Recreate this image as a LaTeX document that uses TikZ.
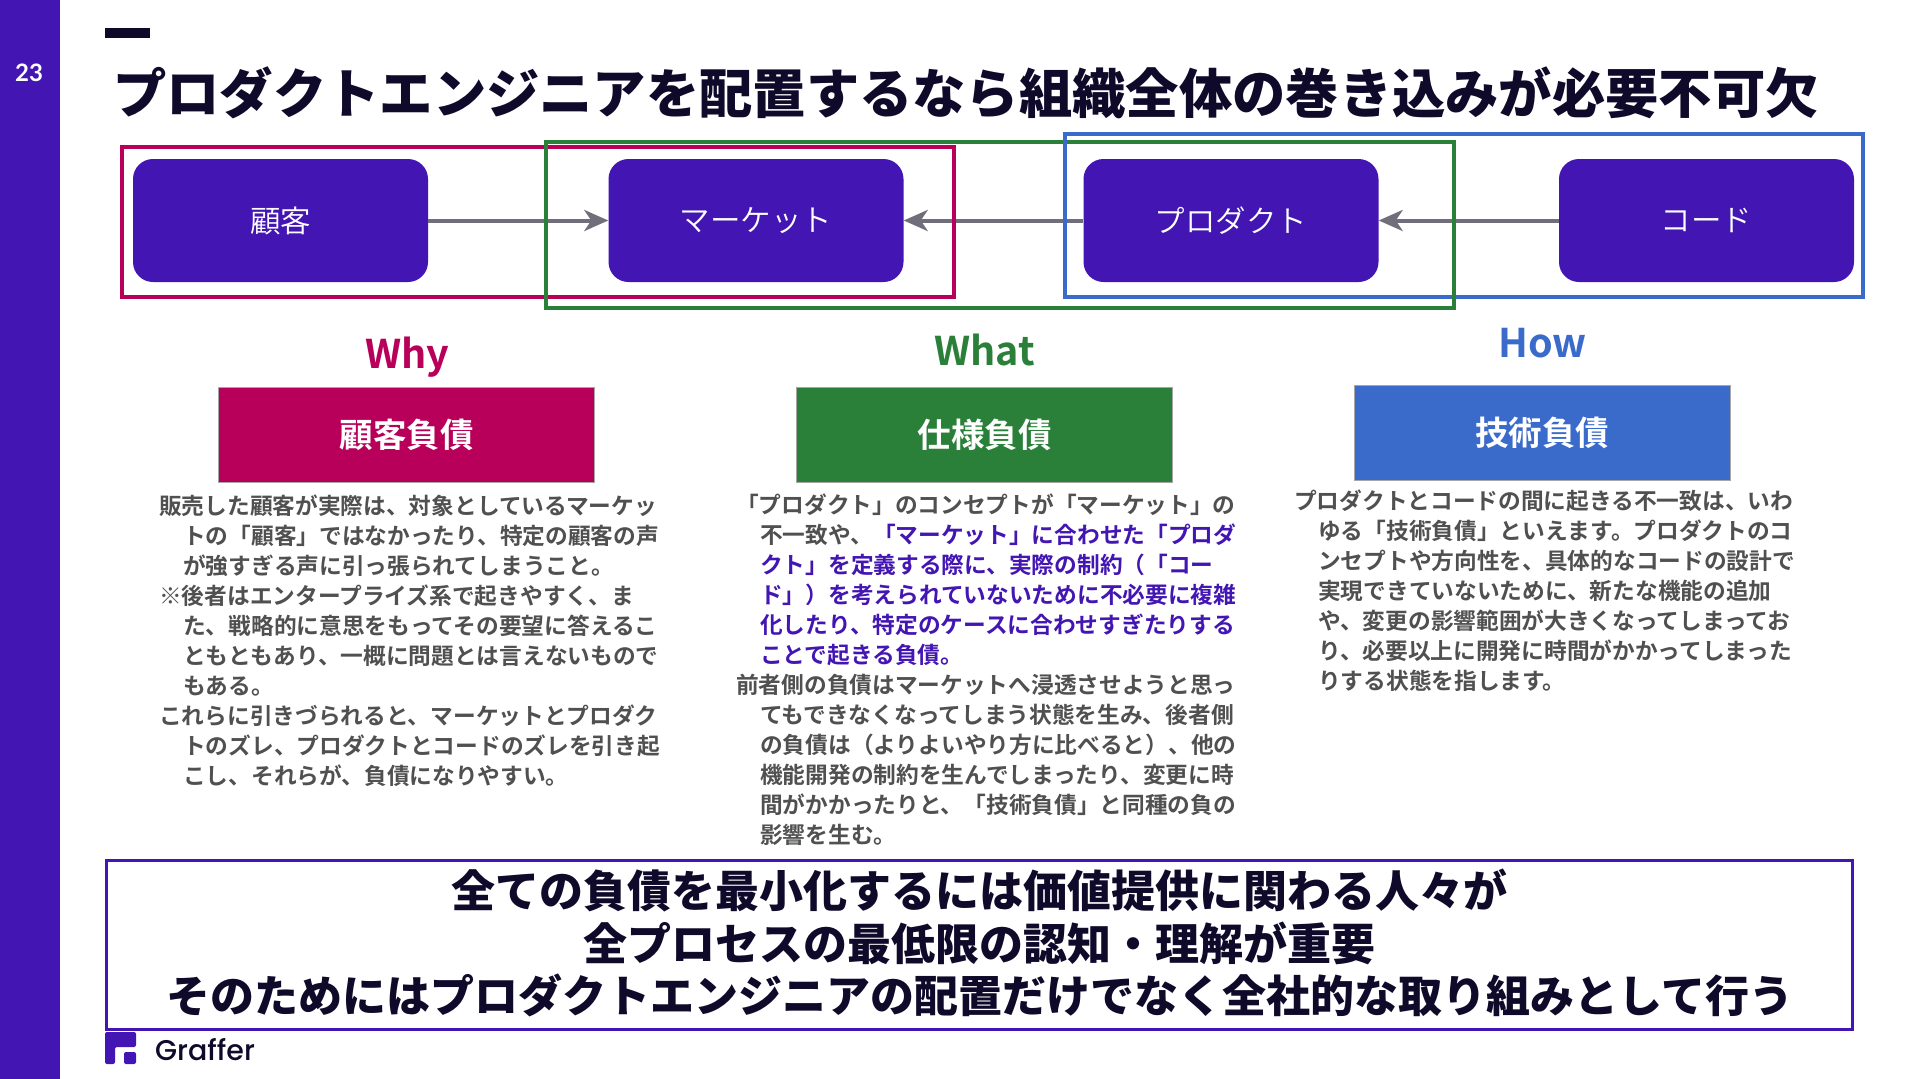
\documentclass[tikz,border=0pt]{standalone}
\usepackage{fontspec}
\usetikzlibrary{arrows.meta}
\setmainfont{Noto Sans CJK JP}[BoldFont={Noto Sans CJK JP Bold}]
\newfontfamily\jpmed{Noto Sans CJK JP Bold}
\newfontfamily\jplight{Noto Sans CJK JP DemiLight}
\newfontfamily\jpblack{Noto Sans CJK JP Black}
\newfontfamily\latinnum{Lato}[BoldFont={Lato Bold}]
\newfontfamily\logofont{Poppins Medium}
\definecolor{grafpurple}{HTML}{4316B3}
\definecolor{whycol}{HTML}{B8005A}
\definecolor{whatcol}{HTML}{2A8039}
\definecolor{howcol}{HTML}{3B6BCA}
\definecolor{inkdark}{HTML}{0F0A2A}
\definecolor{bodygray}{HTML}{505050}
\definecolor{arrowgray}{HTML}{6F6E7A}
\newcommand{\bodytext}{\jpmed\fontsize{22.7}{30}\selectfont}
\newcommand{\ind}{\hspace*{24pt}}
\tikzset{
  px/.style={x=1pt,y=-1pt},
  flowbox/.style={rounded corners=20pt,fill=grafpurple,draw=none,minimum width=295pt,minimum height=123pt,inner sep=0pt,text=white,font=\jplight\fontsize{30.5}{30}\selectfont},
  debtbox/.style={minimum width=376pt,minimum height=95pt,inner sep=0pt,text=white,draw=gray!70,line width=0.7pt,font=\bfseries\fontsize{33.5}{33}\selectfont},
  framebox/.style={line width=3.5pt,fill=none},
  flowarrow/.style={line width=4pt,color=arrowgray,-{Stealth[length=24pt,width=21pt,inset=7pt]}},
  headtext/.style={inner sep=0pt,font=\bfseries\fontsize{39.5}{39}\selectfont},
  para/.style={anchor=north west,inner sep=0pt,align=left,text=bodygray,font=\bodytext},
  bigtext/.style={inner sep=0pt,text=inkdark,font=\jpblack\fontsize{44}{44}\selectfont}
}
\begin{document}
\begin{tikzpicture}[px]
\useasboundingbox (0,0) rectangle (1920,1079);
\fill[white] (0,0) rectangle (1920,1079);
\fill[grafpurple] (0,0) rectangle (60,1079);
\node[inner sep=0pt,text=white,font=\latinnum\bfseries\fontsize{24}{24}\selectfont] (pagenum) at (29,72.5) {23};
\fill[inkdark] (105,28) rectangle (150,38);
\node[inner sep=0pt,text=inkdark,font=\jpblack\fontsize{53.3}{53}\selectfont] (title) at (966,93) {プロダクトエンジニアを配置するなら組織全体の巻き込みが必要不可欠};

\node[flowbox] (customer) at (280.5,220.5) {顧客};
\node[flowbox] (market) at (756,220.5) {マーケット};
\node[flowbox] (product) at (1231,220.5) {プロダクト};
\node[flowbox] (code) at (1706.5,220.5) {コード};

\draw[flowarrow] (customer.east) -- (market.west);
\draw[flowarrow] (product.west) -- (market.east);
\draw[flowarrow] (code.west) -- (product.east);

\draw[framebox,draw=whycol] (122,147) rectangle (954,297);
\draw[framebox,draw=howcol] (1071,134) -- (1863,134) -- (1863,297) -- (1071,297);
\draw[framebox,draw=howcol] (1065,134) -- (1071,134);
\draw[framebox,draw=howcol] (1065,297) -- (1071,297);
\draw[framebox,draw=whatcol] (546,142) rectangle (1454,308);
\draw[framebox,draw=howcol,line cap=rect] (1065,134) -- (1065,297);

\node[headtext,text=whycol] (why) at (407.5,357) {Why};
\node[headtext,text=whatcol] (what) at (984.5,350.5) {What};
\node[headtext,text=howcol] (how) at (1542.5,343) {How};

\node[debtbox,fill=whycol] (debtcustomer) at (406.5,435) {\raisebox{-1pt}{顧客負債}};
\node[debtbox,fill=whatcol] (debtspec) at (984.5,434.5) {\raisebox{-1pt}{仕様負債}};
\node[debtbox,fill=howcol] (debttech) at (1542,432.5) {\raisebox{-1pt}{技術負債}};

\node[para] (whybody) at (159,495) {販売した顧客が実際は、対象としているマーケッ\\
\ind トの「顧客」ではなかったり、特定の顧客の声\\
\ind が強すぎる声に引っ張られてしまうこと。\\
※後者はエンタープライズ系で起きやすく、ま\\
\ind た、戦略的に意思をもってその要望に答えるこ\\
\ind ともともあり、一概に問題とは言えないもので\\
\ind もある。\\
これらに引きづられると、マーケットとプロダク\\
\ind トのズレ、プロダクトとコードのズレを引き起\\
\ind こし、それらが、負債になりやすい。};

\node[para] (whatbody) at (736,494) {「プロダクト」のコンセプトが「マーケット」の\\
\ind 不一致や、\textcolor{grafpurple}{「マーケット」に合わせた「プロダ}\\
\ind \textcolor{grafpurple}{クト」を定義する際に、実際の制約（「コー}\\
\ind \textcolor{grafpurple}{ド」）を考えられていないために不必要に複雑}\\
\ind \textcolor{grafpurple}{化したり、特定のケースに合わせすぎたりする}\\
\ind \textcolor{grafpurple}{ことで起きる負債。}\\
前者側の負債はマーケットへ浸透させようと思っ\\
\ind てもできなくなってしまう状態を生み、後者側\\
\ind の負債は（よりよいやり方に比べると）、他の\\
\ind 機能開発の制約を生んでしまったり、変更に時\\
\ind 間がかかったりと、「技術負債」と同種の負の\\
\ind 影響を生む。};

\node[para] (howbody) at (1294,490) {プロダクトとコードの間に起きる不一致は、いわ\\
\ind ゆる「技術負債」といえます。プロダクトのコ\\
\ind ンセプトや方向性を、具体的なコードの設計で\\
\ind 実現できていないために、新たな機能の追加\\
\ind や、変更の影響範囲が大きくなってしまってお\\
\ind り、必要以上に開発に時間がかかってしまった\\
\ind りする状態を指します。};

\draw[line width=3pt,draw=grafpurple] (106,860) rectangle (1852,1029);
\node[bigtext] (concl1) at (979,890) {全ての負債を最小化するには価値提供に関わる人々が};
\node[bigtext] (concl2) at (979,943) {全プロセスの最低限の認知・理解が重要};
\node[bigtext] (concl3) at (980,995) {そのためにはプロダクトエンジニアの配置だけでなく全社的な取り組みとして行う};

\fill[grafpurple,rounded corners=2pt] (105,1064) -- (105,1032) -- (136,1032) -- (136,1047) -- (115,1047) -- (115,1064) -- cycle;
\fill[grafpurple,rounded corners=2pt] (124,1052) rectangle (136,1064);
\node[anchor=west,inner sep=0pt,text=inkdark,font=\logofont\fontsize{28.5}{28}\selectfont] (logotext) at (155,1050) {Graffer};
\end{tikzpicture}
\end{document}
